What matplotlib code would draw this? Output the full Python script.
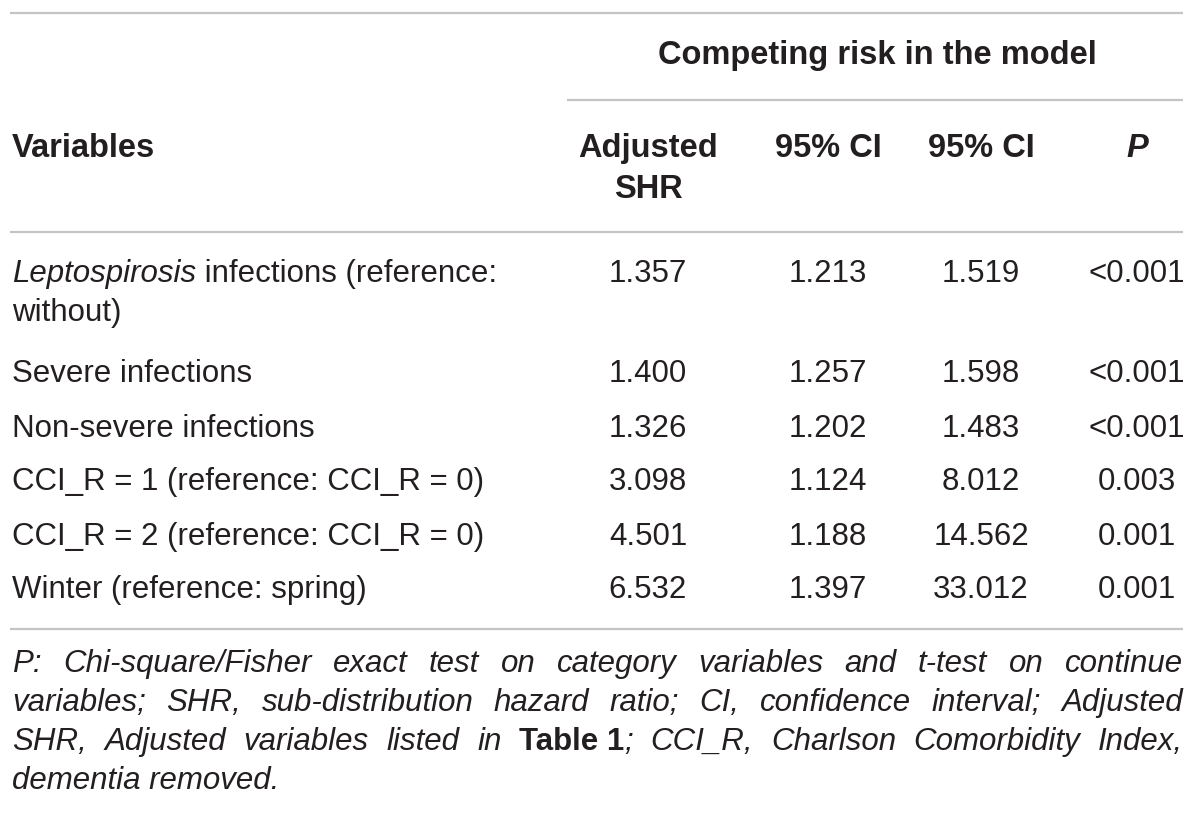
import matplotlib
matplotlib.use("Agg")
import matplotlib.pyplot as plt

# table content
variables = [
    [("Leptospirosis", "italic"), (" infections (reference:", "normal")],
    [("Severe infections", "normal")],
    [("Non-severe infections", "normal")],
    [("CCI_R = 1 (reference: CCI_R = 0)", "normal")],
    [("CCI_R = 2 (reference: CCI_R = 0)", "normal")],
    [("Winter (reference: spring)", "normal")],
]
variables_cont = ["without)", "", "", "", "", ""]
adjusted_shr = ["1.357", "1.400", "1.326", "3.098", "4.501", "6.532"]
ci_low = ["1.213", "1.257", "1.202", "1.124", "1.188", "1.397"]
ci_high = ["1.519", "1.598", "1.483", "8.012", "14.562", "33.012"]
p_values = ["<0.001", "<0.001", "<0.001", "0.003", "0.001", "0.001"]

group_header = "Competing risk in the model"
col_headers = ["Adjusted\nSHR", "95% CI", "95% CI", "P"]

footnote = [
    [[("P:", "italic")], [("Chi-square/Fisher", "italic")], [("exact", "italic")], [("test", "italic")],
     [("on", "italic")], [("category", "italic")], [("variables", "italic")], [("and", "italic")],
     [("t-test", "italic")], [("on", "italic")], [("continue", "italic")]],
    [[("variables;", "italic")], [("SHR,", "italic")], [("sub-distribution", "italic")], [("hazard", "italic")],
     [("ratio;", "italic")], [("CI,", "italic")], [("confidence", "italic")], [("interval;", "italic")],
     [("Adjusted", "italic")]],
    [[("SHR,", "italic")], [("Adjusted", "italic")], [("variables", "italic")], [("listed", "italic")],
     [("in", "italic")], [("Table 1", "bold"), (";", "italic")], [("CCI_R,", "italic")],
     [("Charlson", "italic")], [("Comorbidity", "italic")], [("Index,", "italic")]],
    [[("dementia removed.", "italic")]],
]

FONT = "Liberation Sans"
TXT = "#231f20"
RULE = "#c4c4c4"
FS = 22.5
FS_HEAD = 23.5
FS_NOTE = 22.5

fig = plt.figure(figsize=(12, 8.13), dpi=100)
ax = fig.add_axes([0, 0, 1, 1])
ax.set_xlim(0, 1200)
ax.set_ylim(813, 0)
ax.axis("off")
renderer = fig.canvas.get_renderer()


def style_kw(style):
    if style == "italic":
        return dict(fontstyle="italic", fontweight="normal")
    if style == "bold":
        return dict(fontstyle="normal", fontweight="bold")
    if style == "bolditalic":
        return dict(fontstyle="italic", fontweight="bold")
    return dict(fontstyle="normal", fontweight="normal")


def run_width(text, style, size):
    t = ax.text(0, 0, text, family=FONT, fontsize=size, **style_kw(style))
    w = t.get_window_extent(renderer).width
    t.remove()
    return w


def draw_runs(x, y, runs, size):
    for text, style in runs:
        ax.text(x, y, text, family=FONT, fontsize=size, color=TXT,
                ha="left", va="baseline", **style_kw(style))
        x += run_width(text, style, size)
    return x


# rules
ax.plot([10, 1183], [13, 13], color=RULE, lw=1.6, solid_capstyle="butt")
ax.plot([567, 1183], [100, 100], color=RULE, lw=1.6, solid_capstyle="butt")
ax.plot([10, 1183], [232, 232], color=RULE, lw=1.6, solid_capstyle="butt")
ax.plot([10, 1183], [629, 629], color=RULE, lw=1.6, solid_capstyle="butt")

# headers
ax.text(877, 64, group_header, family=FONT, fontsize=FS_HEAD, fontweight="bold",
        color=TXT, ha="center", va="baseline")
ax.text(12, 157, "Variables", family=FONT, fontsize=FS_HEAD, fontweight="bold",
        color=TXT, ha="left", va="baseline")
col_x = [648, 828, 981, 1137]
for cx, h in zip(col_x, col_headers):
    lines = h.split("\n")
    for i, ln in enumerate(lines):
        st = "bolditalic" if ln == "P" else "bold"
        ax.text(cx, 157 + i * 41, ln, family=FONT, fontsize=FS_HEAD, color=TXT,
                ha="center", va="baseline", **style_kw(st))

# body rows
row_y = [282, 382, 437, 490, 545, 598]
for i, y in enumerate(row_y):
    draw_runs(12, y, variables[i], FS)
    if variables_cont[i]:
        draw_runs(12, y + 39, [(variables_cont[i], "normal")], FS)
    for cx, val in zip(col_x, [adjusted_shr[i], ci_low[i], ci_high[i], p_values[i]]):
        ax.text(cx, y, val, family=FONT, fontsize=FS, color=TXT,
                ha="center", va="baseline")

# footnote, justified
note_y = [672, 711, 750, 789]
left, right = 12, 1183
for li, (words, y) in enumerate(zip(footnote, note_y)):
    widths = [sum(run_width(t, s, FS_NOTE) for t, s in w) for w in words]
    if li < len(footnote) - 1 and len(words) > 1:
        gap = (right - left - sum(widths)) / (len(words) - 1)
    else:
        gap = run_width(" ", "italic", FS_NOTE)
    x = left
    for w, wd in zip(words, widths):
        draw_runs(x, y, w, FS_NOTE)
        x += wd + gap

fig.savefig("out.png", dpi=100, facecolor="white")
